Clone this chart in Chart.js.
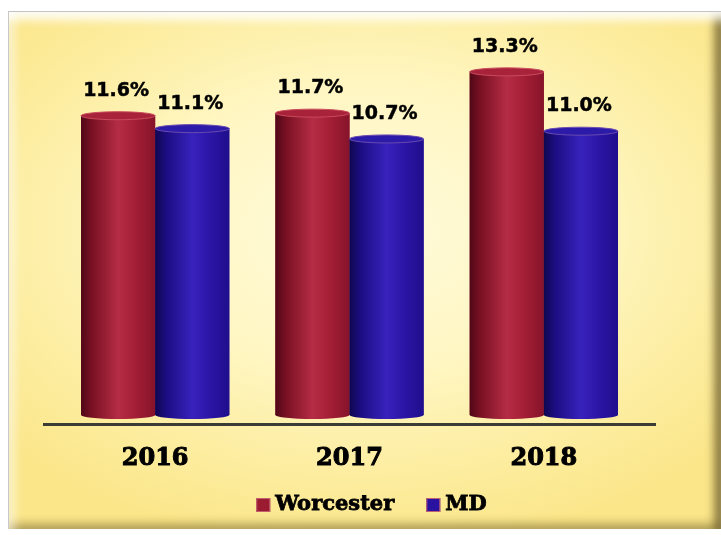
<!DOCTYPE html>
<html>
<head>
<meta charset="utf-8">
<script src="https://cdn.jsdelivr.net/npm/chart.js@4.4.1/dist/chart.umd.min.js"></script>
<style>
  body { margin: 0; background: #ffffff; }
  #frame {
    position: absolute; left: 8px; top: 11px; width: 712px; height: 517px;
    border-top: 1px solid #c4c4c4; border-left: 1px solid #c8c8c8;
    background: radial-gradient(ellipse 68% 62% at 50% 42%, #fffbdc 0%, #fff6c2 45%, #fcec9c 80%, #fbe68a 100%);
    box-shadow: inset 0 14px 10px -6px rgba(255,255,255,0.9),
                inset 12px 0 10px -6px rgba(255,255,255,0.55),
                inset -11px 0 8px -4px rgba(105,90,40,0.75),
                inset 0 -10px 8px -4px rgba(130,110,45,0.5);
  }
  #chart { position: absolute; left: 0; top: 0; }
</style>
</head>
<body>
<div id="frame"></div>
<canvas id="chart" width="721" height="535"></canvas>
<script>
// chart data
const years = ["2016", "2017", "2018"];
const seriesNames = ["Worcester", "MD"];
const worcester = [11.6, 11.7, 13.3];
const maryland = [11.1, 10.7, 11.0];

const seriesColors = ["#9b1b30", "#2a12a0"];
// colour stops for the cylinder look
const cylinderShades = [
  ["#500818", "#7a1123", "#b42c45", "#a51f36", "#86132a"],
  ["#10074f", "#1c0d82", "#3822bc", "#2c16a8", "#1f0e8c"]
];
const capColors = [["#a8223a", "#c94a5c"], ["#2c1aa8", "#6a4ab0"]];

// draws each bar as a shaded cylinder using the bar element geometry
const cylinderPlugin = {
  id: "cylinders",
  afterDatasetsDraw(chart) {
    const ctx = chart.ctx;
    chart.data.datasets.forEach((ds, di) => {
      const meta = chart.getDatasetMeta(di);
      meta.data.forEach(bar => {
        const w = bar.width;
        const left = bar.x - w / 2;
        const right = bar.x + w / 2;
        const ry = 4;
        const g = ctx.createLinearGradient(left, 0, right, 0);
        const s = cylinderShades[di];
        g.addColorStop(0, s[0]);
        g.addColorStop(0.15, s[1]);
        g.addColorStop(0.5, s[2]);
        g.addColorStop(0.72, s[3]);
        g.addColorStop(1, s[4]);
        ctx.save();
        ctx.beginPath();
        ctx.moveTo(left, bar.y);
        ctx.lineTo(left, bar.base);
        ctx.ellipse(bar.x, bar.base, w / 2, ry, 0, Math.PI, 0, true);
        ctx.lineTo(right, bar.y);
        ctx.closePath();
        ctx.fillStyle = g;
        ctx.fill();
        // top cap
        ctx.beginPath();
        ctx.ellipse(bar.x, bar.y, w / 2, ry, 0, 0, Math.PI * 2);
        ctx.fillStyle = capColors[di][0];
        ctx.fill();
        ctx.lineWidth = 1;
        ctx.strokeStyle = capColors[di][1];
        ctx.stroke();
        ctx.restore();
      });
    });
  }
};

// value labels above the bars
const valueLabels = {
  id: "valueLabels",
  afterDatasetsDraw(chart) {
    const ctx = chart.ctx;
    ctx.save();
    ctx.font = "bold 19px 'DejaVu Sans'";
    ctx.fillStyle = "#000000";
    ctx.strokeStyle = "#000000";
    ctx.lineWidth = 0.5;
    ctx.textAlign = "center";
    ctx.textBaseline = "alphabetic";
    chart.data.datasets.forEach((ds, di) => {
      chart.getDatasetMeta(di).data.forEach((bar, i) => {
        const t = ds.data[i].toFixed(1) + "%";
        ctx.fillText(t, bar.x - 2, bar.y - 20);
        ctx.strokeText(t, bar.x - 2, bar.y - 20);
      });
    });
    ctx.restore();
  }
};

// dark baseline under the bars
const baseLine = {
  id: "baseLine",
  beforeDatasetsDraw(chart) {
    const a = chart.chartArea;
    const ctx = chart.ctx;
    ctx.save();
    ctx.strokeStyle = "#3c3c36";
    ctx.lineWidth = 3;
    ctx.beginPath();
    ctx.moveTo(a.left - 15, a.bottom + 9.5);
    ctx.lineTo(a.right + 15, a.bottom + 9.5);
    ctx.stroke();
    ctx.restore();
  }
};

// legend below the axis labels
const legendRow = {
  id: "legendRow",
  afterDraw(chart) {
    const a = chart.chartArea;
    const ctx = chart.ctx;
    ctx.save();
    ctx.font = "bold 21px 'DejaVu Serif'";
    ctx.textBaseline = "middle";
    ctx.textAlign = "left";
    const box = 14, gapText = 5, gapItem = 32;
    const widths = seriesNames.map(n => ctx.measureText(n).width);
    const total = widths.reduce((s, w) => s + box + gapText + w, 0) + gapItem;
    let x = (a.left + a.right) / 2 + 22 - total / 2;
    const y = a.bottom + 90;
    seriesNames.forEach((n, i) => {
      ctx.fillStyle = seriesColors[i];
      ctx.fillRect(x, y - box / 2, box, box);
      ctx.strokeStyle = "#c06070";
      ctx.lineWidth = 1;
      ctx.strokeRect(x + 0.5, y - box / 2 + 0.5, box - 1, box - 1);
      x += box + gapText;
      ctx.fillStyle = "#000000";
      ctx.strokeStyle = "#000000";
      ctx.lineWidth = 0.8;
      ctx.fillText(n, x, y);
      ctx.strokeText(n, x, y);
      x += widths[i] + gapItem;
    });
    ctx.restore();
  }
};

const ctx = document.getElementById("chart").getContext("2d");
new Chart(ctx, {
  type: "bar",
  data: {
    labels: years,
    datasets: [
      { label: seriesNames[0], data: worcester, backgroundColor: seriesColors[0], borderWidth: 0 },
      { label: seriesNames[1], data: maryland, backgroundColor: seriesColors[1], borderWidth: 0 }
    ]
  },
  options: {
    responsive: false,
    animation: false,
    layout: { padding: { left: 58, right: 80, top: 28, bottom: 0 } },
    categoryPercentage: 0.763,
    barPercentage: 1.0,
    scales: {
      x: {
        grid: { display: false },
        border: { display: false },
        ticks: {
          color: "#000000",
          padding: 21,
          textStrokeColor: "#000000",
          textStrokeWidth: 1,
          font: { family: "'DejaVu Serif'", size: 24, weight: "bold" }
        },
        afterFit(scale) { scale.height = 120; }
      },
      y: { display: false, min: 0, max: 15 }
    },
    plugins: {
      tooltip: { enabled: false },
      legend: { display: false }
    }
  },
  plugins: [baseLine, cylinderPlugin, valueLabels, legendRow]
});
</script>
</body>
</html>
